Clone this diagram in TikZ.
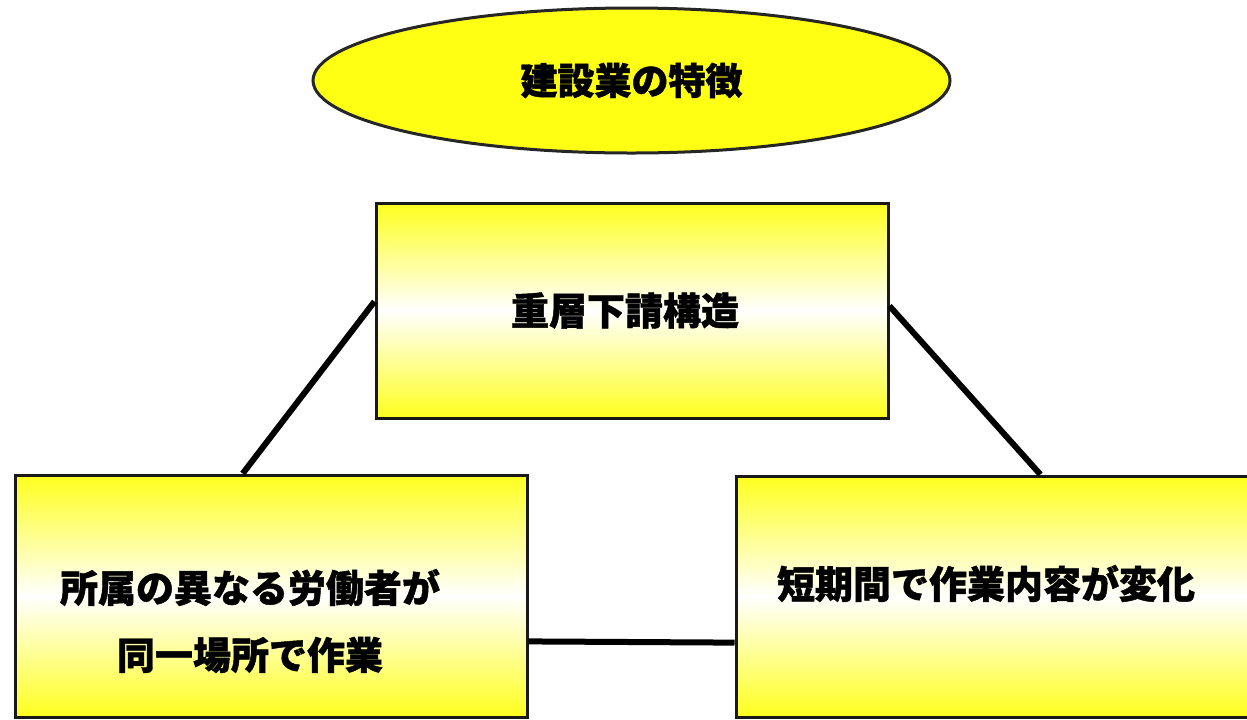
\documentclass[tikz,border=0pt]{standalone}
\usepackage{fontspec}
\newfontfamily\jpgothic{Noto Sans CJK JP}[BoldFeatures={FakeBold=1.2}]
\usetikzlibrary{shapes.geometric}
\definecolor{daen}{RGB}{255,255,20}
\definecolor{hakoki}{RGB}{255,255,30}
\tikzset{
	midashi/.style={ellipse, draw=black!85, line width=1.5pt, fill=daen, minimum width=318.5pt, minimum height=72.5pt, font=\jpgothic\bfseries\fontsize{18.5}{22}\selectfont},
	hako/.style={rectangle, draw=black!90, line width=1.5pt, top color=hakoki, bottom color=hakoki, middle color=white},
	hakomoji/.style={font=\jpgothic\bfseries\fontsize{19}{33.5}\selectfont, align=center, inner sep=0pt},
	sen/.style={line width=3pt}
}
\begin{document}
\begin{tikzpicture}[x=0.5pt,y=-0.5pt]  %1px = 0.5pt
	\useasboundingbox (0,0) rectangle (1247,719);
	\clip (0,0) rectangle (1247,719);
		%見出し
	\node[midashi] (tokucho) at (631.5,80.5) {建設業の特徴};
		%箱
	\node[hako, minimum width=256pt, minimum height=107.5pt,
		label={[hakomoji, name=kozomoji, xshift=-3.5pt]center:重層下請構造}] (kozo) at (632,310.5) {}; %上
	\node[hako, minimum width=256pt, minimum height=121pt,
		label={[hakomoji, name=shozokumoji, xshift=-10.5pt, yshift=-12.5pt]center:{所属の異なる労働者が\\同一場所で作業}}] (shozoku) at (271,596) {}; %左下
	\node[hako, minimum width=260pt, minimum height=120.5pt,
		label={[hakomoji, name=tankimoji, xshift=-5pt, yshift=6.5pt]center:短期間で作業内容が変化}] (tanki) at (996,596.5) {}; %右下
		%線
	\draw[sen] (kozo.178.3) -- (shozoku.103);
	\draw[sen] (kozo.1.7) -- (tanki.70);
	\draw[sen] (shozoku.-10.4) -- (tanki.190.25);
\end{tikzpicture}
\end{document}
